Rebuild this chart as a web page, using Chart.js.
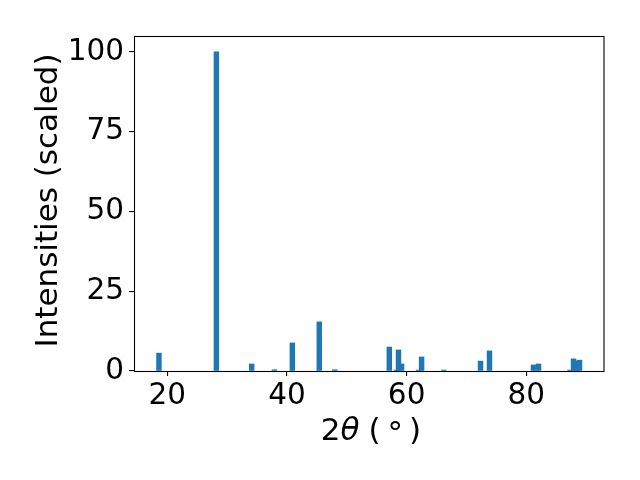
<!DOCTYPE html>
<html>
<head>
<meta charset="utf-8">
<script src="https://cdn.jsdelivr.net/npm/chart.js@4.4.1/dist/chart.umd.min.js"></script>
<style>
    html, body { margin: 0; padding: 0; background: #fff; }
    canvas { display: block; }
</style>
</head>
<body>
<canvas id="myChart" width="640" height="480"></canvas>
<script>
// peak positions (2θ, degrees) and scaled intensities.
// bars that are partly hidden behind a neighbour come first so they draw underneath
const twoTheta = [58.3, 59.15, 62.0, 87.3, 88.4,
    18.6, 28.2, 34.1, 37.9, 40.9, 45.4, 48.0, 57.1, 58.64, 62.5, 66.2,
    72.35, 73.85, 81.2, 82.05, 87.9, 88.9];
const intensity = [0.3, 2.2, 0.3, 0.3, 3.1,
    5.6, 100, 2.2, 0.4, 8.8, 15.4, 0.4, 7.5, 6.6, 4.4, 0.3,
    3.1, 6.3, 1.9, 2.2, 3.8, 3.4];

const xTicks = [20, 40, 60, 80];
const yTicks = [0, 25, 50, 75, 100];
const xRange = [14.43, 92.99];
const yRange = [0, 105];

const FONT = "'DejaVu Sans', sans-serif";
const TICK_SIZE = 29.5;
const LABEL_SIZE = 31;

// matplotlib-style full frame plus the two axis titles
const framePlugin = {
    id: "frame",
    afterDraw(chart) {
        const { ctx, chartArea: a } = chart;
        ctx.save();
        ctx.strokeStyle = "#000";
        ctx.lineWidth = 1.1;
        ctx.strokeRect(a.left + 0.5, a.top + 0.5, a.right - a.left - 0.5, a.bottom - a.top);

        ctx.fillStyle = "#000";
        ctx.textBaseline = "alphabetic";

        // y title
        ctx.save();
        ctx.translate(57, (a.top + a.bottom) / 2 - 3);
        ctx.rotate(-Math.PI / 2);
        ctx.textAlign = "center";
        ctx.font = `${LABEL_SIZE}px ${FONT}`;
        ctx.fillText("Intensities (scaled)", 0, 0);
        ctx.restore();

        // x title: 2θ ( ° ) with italic theta, mathtext-like spacing
        const normal = `${LABEL_SIZE}px ${FONT}`;
        const italic = `oblique ${LABEL_SIZE}px ${FONT}`;
        const parts = [
            { t: "2", f: normal, dy: 0, gap: 0 },
            { t: "θ", f: italic, dy: 0, gap: 9 },
            { t: "(", f: normal, dy: 0, gap: 7 },
            { t: "°", f: normal, dy: 3, gap: 6 },
            { t: ")", f: normal, dy: 0, gap: 0 },
        ];
        let total = 0;
        parts.forEach(p => {
            ctx.font = p.f;
            p.width = ctx.measureText(p.t).width;
            total += p.width + p.gap;
        });
        let x = (a.left + a.right) / 2 + 2 - total / 2;
        const baseY = 440;
        ctx.textAlign = "left";
        parts.forEach(p => {
            ctx.font = p.f;
            ctx.fillText(p.t, x, baseY + p.dy);
            x += p.width + p.gap;
        });
        ctx.restore();
    },
};

const myChart = document.getElementById("myChart");

new Chart(myChart, {
    type: "bar",
    data: {
        datasets: [
            {
                label: "pattern",
                data: twoTheta.map((t, i) => ({ x: t, y: intensity[i] })),
                backgroundColor: "#1f77b4",
                borderWidth: 0,
                barThickness: 4.8,
                grouped: false,
            },
        ],
    },
    options: {
        responsive: false,
        animation: false,
        layout: {
            padding: { top: 36, right: 36, left: 0, bottom: 0 },
        },
        plugins: {
            legend: { display: false },
            tooltip: { enabled: false },
        },
        scales: {
            x: {
                type: "linear",
                offset: false,
                min: xRange[0],
                max: xRange[1],
                afterBuildTicks: s => { s.ticks = xTicks.map(v => ({ value: v })); },
                afterFit: s => { s.height = 109; },
                border: { display: false },
                grid: {
                    offset: false,
                    drawOnChartArea: false,
                    drawTicks: true,
                    tickLength: 5,
                    color: "#000",
                    lineWidth: 1.1,
                },
                ticks: {
                    color: "#000",
                    padding: 3,
                    maxRotation: 0,
                    font: { family: FONT, size: TICK_SIZE },
                },
            },
            y: {
                min: yRange[0],
                max: yRange[1],
                afterBuildTicks: s => { s.ticks = yTicks.map(v => ({ value: v })); },
                afterFit: s => { s.width = 134; },
                border: { display: false },
                grid: {
                    drawOnChartArea: false,
                    drawTicks: true,
                    tickLength: 5,
                    color: "#000",
                    lineWidth: 1.1,
                },
                ticks: {
                    color: "#000",
                    padding: 5,
                    font: { family: FONT, size: TICK_SIZE },
                },
            },
        },
    },
    plugins: [framePlugin],
});
</script>
</body>
</html>
